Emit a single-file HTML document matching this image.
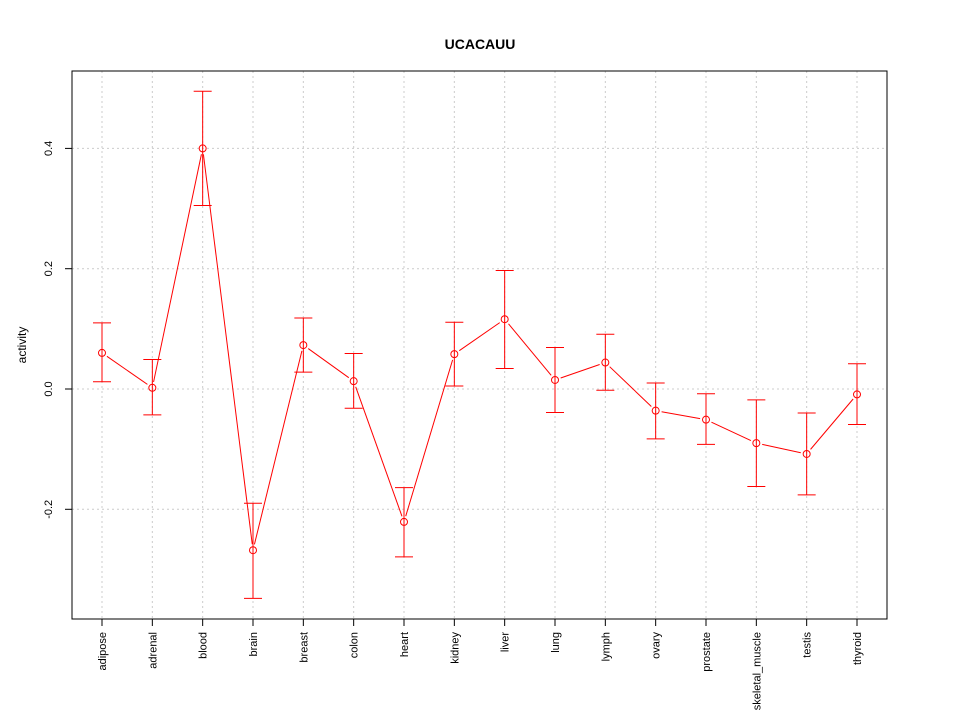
<!DOCTYPE html>
<html><head><meta charset="utf-8"><style>body{margin:0;background:#fff}svg{display:block}text{font-family:"Liberation Sans",sans-serif}</style></head>
<body>
<svg id="chart" width="960" height="720" xmlns="http://www.w3.org/2000/svg">
<rect width="960" height="720" fill="#fff"/>
<text x="480" y="49" text-anchor="middle" font-size="14" font-weight="bold">UCACAUU</text>
<text transform="translate(26,345) rotate(-90)" text-anchor="middle" font-size="12">activity</text>
<g id="grid"></g><g id="axes"></g><g id="marks"></g>
<rect x="72" y="71" width="815" height="548" fill="none" stroke="#000"/>
</svg>
<script>
const categories=["adipose","adrenal","blood","brain","breast","colon","heart","kidney","liver","lung","lymph","ovary","prostate","skeletal_muscle","testis","thyroid"];
const values=[0.060,0.002,0.400,-0.268,0.073,0.013,-0.221,0.058,0.116,0.015,0.044,-0.036,-0.051,-0.090,-0.108,-0.009];
const upper=[0.110,0.049,0.495,-0.190,0.118,0.059,-0.164,0.111,0.197,0.069,0.091,0.010,-0.008,-0.018,-0.040,0.042];
const lower=[0.012,-0.043,0.305,-0.348,0.028,-0.032,-0.279,0.005,0.034,-0.039,-0.002,-0.083,-0.092,-0.162,-0.176,-0.059];
const yTicks=[-0.2,0.0,0.2,0.4];
const yTickLabels=["-0.2","0.0","0.2","0.4"];
const NS="http://www.w3.org/2000/svg";
const xs=i=>102+i*(857-102)/(categories.length-1);
const ys=v=>389-v*601.5;
function mk(parent,tag,attrs){const e=document.createElementNS(NS,tag);for(const k in attrs)e.setAttribute(k,attrs[k]);document.getElementById(parent).appendChild(e);return e;}
categories.forEach((c,i)=>{
 const g=mk('grid','line',{x1:xs(i),x2:xs(i),y1:71,y2:619,stroke:'#ccc','stroke-dasharray':'2,3'});
 
 
 const t=mk('axes','line',{x1:xs(i),x2:xs(i),y1:619,y2:626,stroke:'#000'});
 
 
 const l=mk('axes','text',{transform:`translate(${xs(i)+4},632) rotate(-90)`,'text-anchor':'end','font-size':'11'});
 l.textContent=c;
 
 
});
yTicks.forEach((v,i)=>{
 const g=mk('grid','line',{x1:72,x2:887,y1:ys(v),y2:ys(v),stroke:'#ccc','stroke-dasharray':'2,3'});
 
 
 const t=mk('axes','line',{x1:65,x2:72,y1:ys(v),y2:ys(v),stroke:'#000'});
 
 
 const l=mk('axes','text',{transform:`translate(52,${ys(v)}) rotate(-90)`,'text-anchor':'middle','font-size':'11'});
 l.textContent=yTickLabels[i];
 
 
});
for(let i=0;i<values.length-1;i++){
 const x1=xs(i),y1=ys(values[i]),x2=xs(i+1),y2=ys(values[i+1]);
 const d=Math.hypot(x2-x1,y2-y1),g=6;
 if(d>2*g){const ux=(x2-x1)/d,uy=(y2-y1)/d;
 const s=mk('marks','line',{x1:x1+ux*g,y1:y1+uy*g,x2:x2-ux*g,y2:y2-uy*g,stroke:'#f00'});
 
 }
}
values.forEach((v,i)=>{
 const x=xs(i);
 const e=mk('marks','path',{d:`M${x-9},${ys(upper[i])}H${x+9}M${x},${ys(upper[i])}V${ys(lower[i])}M${x-9},${ys(lower[i])}H${x+9}`,stroke:'#f00',fill:'none'});
 
 
 const p=mk('marks','circle',{cx:x,cy:ys(v),r:3.5,fill:'none',stroke:'#f00'});
 
 
});
</script>
</body></html>
